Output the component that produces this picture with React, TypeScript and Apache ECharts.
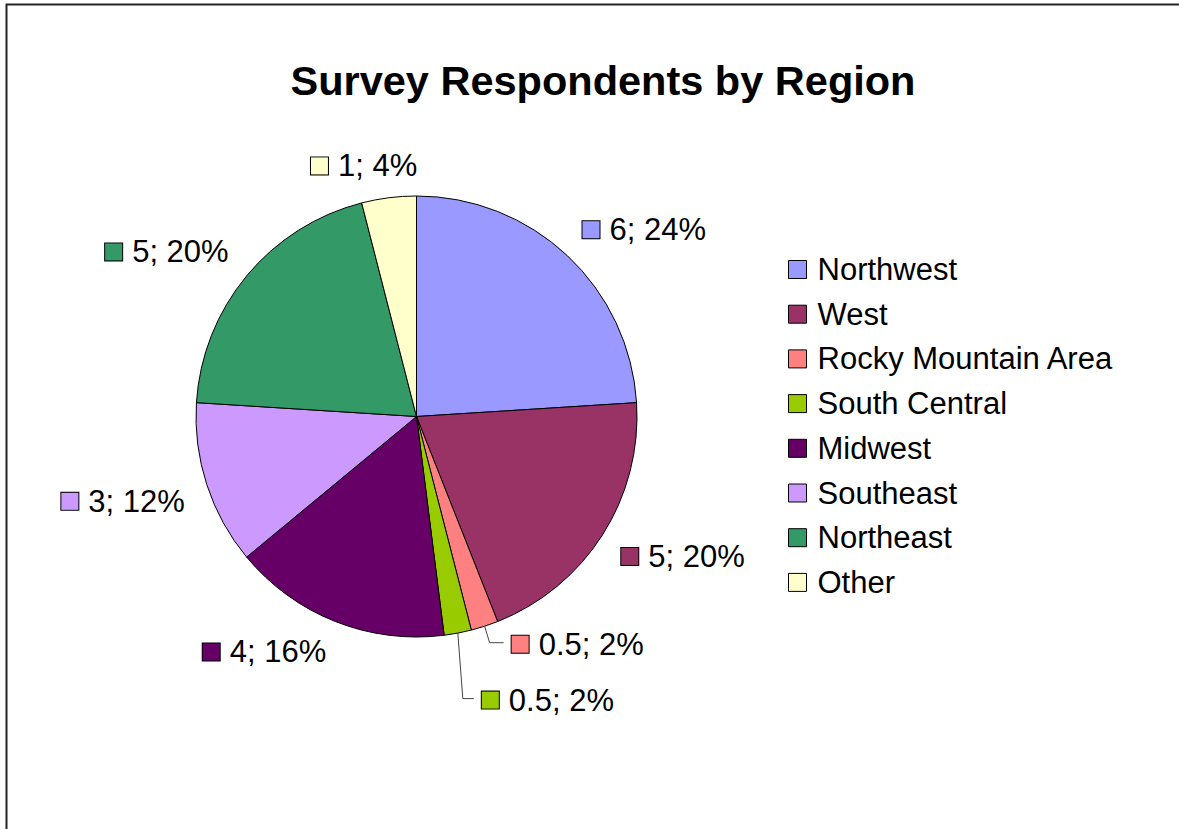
import React, { useEffect, useRef } from "react";
import * as echarts from "echarts";

// ---- data ----
const regions = [
  "Northwest",
  "West",
  "Rocky Mountain Area",
  "South Central",
  "Midwest",
  "Southeast",
  "Northeast",
  "Other",
];
const respondents = [6, 5, 0.5, 0.5, 4, 3, 5, 1];
const sliceColors = [
  "#9999FF",
  "#993366",
  "#FF8080",
  "#99CC00",
  "#660066",
  "#CC99FF",
  "#339966",
  "#FFFFCC",
];
const chartTitle = "Survey Respondents by Region";

// ---- layout ----
const W = 1179;
const H = 829;
const CX = 416.5;
const CY = 416.5;
const R = 220.5;
const LABEL_GAP = 22;
const LABEL_BOX_H = 20;
const FONT = "'Liberation Sans', Arial, Helvetica, sans-serif";
// manually placed labels (with leader lines): offset of label's left-middle from slice edge point
const LEADER_OFFSETS: Record<number, [number, number]> = {
  2: [27, 18],
  3: [24, 67],
};

export default function App() {
  const ref = useRef<HTMLDivElement>(null);

  useEffect(() => {
    if (!ref.current) return;
    const chart = echarts.init(ref.current, undefined, { renderer: "svg" });

    const total = respondents.reduce((a, b) => a + b, 0);
    const mids: number[] = [];
    let cum = 0;
    respondents.forEach((v) => {
      mids.push(((cum + v / 2) / total) * Math.PI * 2);
      cum += v;
    });

    const rich: Record<string, any> = {
      t: {
        fontSize: 31,
        lineHeight: 20,
        color: "#000",
        fontFamily: FONT,
        padding: [0, 0, 0, 10],
      },
    };
    sliceColors.forEach((c, i) => {
      rich["sq" + i] = {
        width: 17,
        height: 17,
        backgroundColor: c,
        borderColor: "#000",
        borderWidth: 1,
      };
    });

    const clamp = (v: number) => Math.max(0, Math.min(1, v));

    const option: any = {
      animation: false,
      backgroundColor: "#fff",
      color: sliceColors,
      title: {
        text: chartTitle,
        left: 603,
        top: 59.5,
        padding: 0,
        textAlign: "center",
        textStyle: {
          fontFamily: FONT,
          fontSize: 41.5,
          fontWeight: "bold",
          color: "#000",
          lineHeight: 41,
        },
      },
      graphic: [
        {
          type: "rect",
          silent: true,
          z: -10,
          shape: { x: 6.5, y: 4.5, width: 1400, height: 1100 },
          style: { fill: "none", stroke: "#222", lineWidth: 2 },
        },
      ],
      legend: {
        orient: "vertical",
        left: 788,
        top: 254,
        padding: 0,
        itemWidth: 18,
        itemHeight: 18,
        itemGap: 13.7,
        icon: "rect",
        selectedMode: false,
        itemStyle: { borderColor: "#000", borderWidth: 1 },
        textStyle: {
          fontFamily: FONT,
          fontSize: 31,
          lineHeight: 30,
          height: 30,
          color: "#000",
          padding: [0, 0, 0, 6],
        },
        data: regions,
      },
      series: [
        {
          type: "pie",
          center: [CX, CY],
          radius: R,
          startAngle: 90,
          clockwise: true,
          avoidLabelOverlap: false,
          itemStyle: { borderColor: "#000", borderWidth: 1 },
          emphasis: { disabled: true },
          label: {
            show: true,
            position: "outside",
            formatter: (p: any) =>
              `{sq${p.dataIndex}|}{t|${p.value}; ${Math.round(p.percent)}%}`,
            rich,
          },
          labelLine: {
            show: false,
            lineStyle: { color: "#444", width: 1 },
          },
          labelLayout: (p: any) => {
            const i = p.dataIndex;
            const a = mids[i];
            const s = Math.sin(a);
            const c = Math.cos(a);
            const w = p.labelRect.width;
            const lead = LEADER_OFFSETS[i];
            if (lead) {
              const ex = CX + R * s;
              const ey = CY - R * c;
              const lx = ex + lead[0];
              const ly = ey + lead[1];
              return {
                x: lx,
                y: ly,
                align: "left",
                verticalAlign: "middle",
                labelLinePoints: [
                  [ex, ey],
                  [ex + 5, ly - 1.5],
                  [lx - 8, ly - 1.5],
                ],
              };
            }
            const d = R + LABEL_GAP;
            const ax = CX + d * s;
            const ay = CY - d * c;
            const f = clamp(0.5 - 1.6 * s);
            const g = clamp(0.5 + 1.6 * c);
            return {
              x: ax - f * w,
              y: ay + (0.5 - g) * LABEL_BOX_H,
              align: "left",
              verticalAlign: "middle",
            };
          },
          data: regions.map((name, i) => ({
            name,
            value: respondents[i],
            labelLine: LEADER_OFFSETS[i] ? { show: true } : { show: false },
          })),
        },
      ],
    };

    chart.setOption(option);
    return () => chart.dispose();
  }, []);

  return (
    <div
      ref={ref}
      style={{ position: "absolute", left: 0, top: 0, width: W, height: H }}
    />
  );
}
